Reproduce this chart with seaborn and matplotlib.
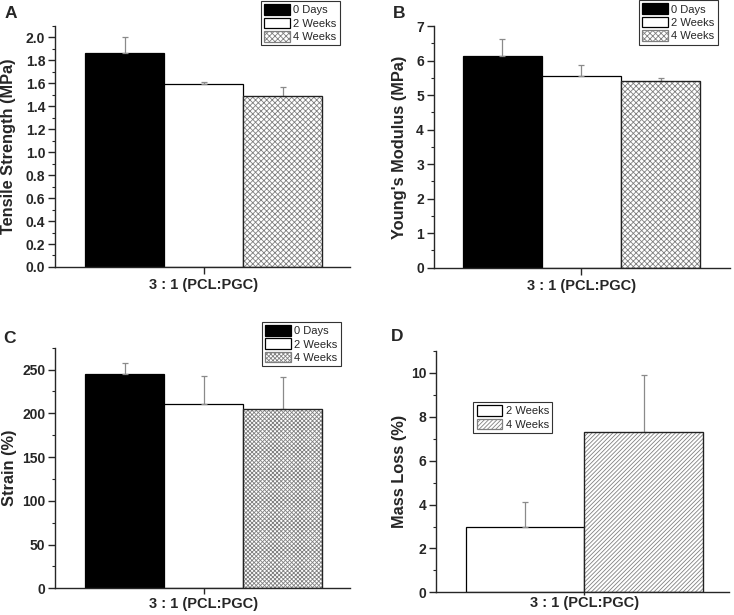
import numpy as np
import pandas as pd
import matplotlib
matplotlib.use("Agg")
import matplotlib.pyplot as plt
import seaborn as sns
from matplotlib.ticker import MultipleLocator, FormatStrFormatter

# ── Data ─────────────────────────────────────────────────
group = "3 : 1 (PCL:PGC)"
times3 = ["0 Days", "2 Weeks", "4 Weeks"]
times2 = ["2 Weeks", "4 Weeks"]

tensile = [1.86, 1.59, 1.49]
tensile_err = [0.14, 0.02, 0.08]

modulus = [6.12, 5.54, 5.40]
modulus_err = [0.50, 0.32, 0.09]

strain = [245, 211, 205]
strain_err = [13, 32, 36]

mass_loss = [3.0, 7.3]
mass_loss_err = [1.1, 2.6]

# ── Style ────────────────────────────────────────────────
sns.set_style("ticks")
plt.rcParams["font.family"] = ["Liberation Sans", "DejaVu Sans"]
plt.rcParams["hatch.linewidth"] = 0.6
plt.rcParams["axes.linewidth"] = 1.0

fig = plt.figure(figsize=(7.34, 6.15), dpi=100)


def panel(rect, times, vals, errs, colors, hatches, ylim, major, minor,
          fmt, ylabel, xlim_f, ylab_x, leg_anchor, xtick_len=5, xtick_pad=3):
    ax = fig.add_axes(rect)
    df = pd.DataFrame({"group": [group] * len(vals), "time": times, "value": vals})
    sns.barplot(data=df, x="group", y="value", hue="time", hue_order=times,
                palette=colors, edgecolor="black", linewidth=0.9,
                errorbar=None, width=0.8, legend=False, ax=ax)
    w = 0.8 / len(vals)
    handles = []
    for cont, h, v, e in zip(ax.containers, hatches, vals, errs):
        p = cont[0]
        if h:
            p.set_edgecolor("#808080")
            p.set_hatch(h)
            ax.add_patch(plt.Rectangle(p.get_xy(), p.get_width(), p.get_height(),
                                       fill=False, ec="#222222", lw=0.9, zorder=p.get_zorder() + 0.1))
        xc = p.get_x() + p.get_width() / 2
        ax.errorbar([xc], [v], yerr=[[0], [e]], fmt="none", ecolor="#8a8a8a",
                    elinewidth=0.9, capsize=2.5, capthick=0.9, zorder=1)
        handles.append(p)
    ax.set_xlim(xlim_f[0] * w, xlim_f[1] * w)
    ax.set_ylim(*ylim)
    ax.yaxis.set_major_locator(MultipleLocator(major))
    ax.yaxis.set_minor_locator(MultipleLocator(minor))
    ax.yaxis.set_major_formatter(FormatStrFormatter(fmt))
    ax.tick_params(axis="y", which="major", length=5, width=1, labelsize=10, pad=2)
    ax.tick_params(axis="y", which="minor", length=2.5, width=0.8)
    ax.tick_params(axis="x", length=xtick_len, width=1, labelsize=10.5, pad=xtick_pad)
    for t in ax.get_yticklabels() + ax.get_xticklabels():
        t.set_fontweight("bold")
    ax.set_xlabel("")
    ax.set_ylabel(ylabel, fontsize=11.8, fontweight="bold")
    ax.yaxis.set_label_coords(ylab_x, 0.5)
    sns.despine(ax=ax)
    leg = ax.legend(handles, times, loc="upper right", bbox_to_anchor=leg_anchor,
                    fontsize=8, frameon=True, fancybox=False, framealpha=1,
                    edgecolor="#333333", handlelength=2.3, handleheight=1.1,
                    handletextpad=0.3, labelspacing=0.2, borderpad=0.3,
                    borderaxespad=0)
    leg.get_frame().set_linewidth(0.8)
    return ax


panel([0.0749, 0.5659, 0.4019, 0.3919], times3, tensile, tensile_err,
      ["black", "white", "white"], [None, None, "xxxxxx"], (0, 2.1), 0.2, 0.1,
      "%.1f", "Tensile Strength (MPa)", (-1.886, 1.85), -0.132, (0.966, 1.104))

panel([0.5909, 0.5647, 0.4037, 0.393], times3, modulus, modulus_err,
      ["black", "white", "white"], [None, None, "xxxxxx"], (0, 7), 1, 0.5,
      "%d", "Young's Modulus (MPa)", (-1.87, 1.88), -0.09, (0.958, 1.107))

panel([0.0749, 0.0434, 0.4019, 0.3912], times3, strain, strain_err,
      ["black", "white", "white"], [None, None, "xxxxxxxx"], (0, 275), 50, 25,
      "%d", "Strain (%)", (-1.886, 1.85), -0.129, (0.968, 1.108),
      xtick_len=4, xtick_pad=2)

panel([0.5944, 0.0369, 0.3984, 0.3923], times2, mass_loss, mass_loss_err,
      ["white", "white"], [None, "////////"], (0, 11), 2, 1,
      "%d", "Mass Loss (%)", (-1.247, 1.217), -0.10, (0.396, 0.789),
      xtick_len=2, xtick_pad=1)

# panel letters
for lbl, x, y in [("A", 5, 6), ("B", 393, 6), ("C", 3, 331), ("D", 391, 329)]:
    fig.text(x / 734, 1 - y / 615, lbl, fontsize=12.5, fontweight="bold",
             ha="left", va="top")

fig.savefig("out.png", dpi=100)
